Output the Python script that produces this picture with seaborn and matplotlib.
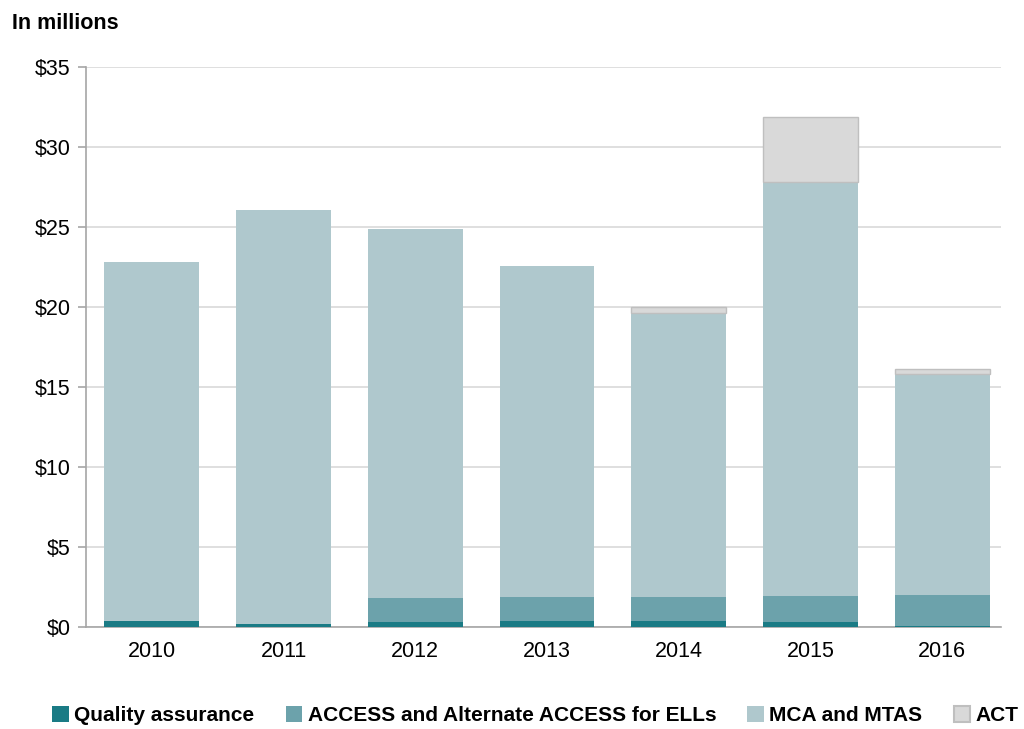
import matplotlib.pyplot as plt
import seaborn as sns
import numpy as np
import pandas as pd

# Data (in millions of dollars)
years = ["2010", "2011", "2012", "2013", "2014", "2015", "2016"]
quality_assurance = [0.35, 0.2, 0.3, 0.4, 0.35, 0.3, 0.05]
access = [0.0, 0.0, 1.5, 1.5, 1.55, 1.65, 1.95]
mca_mtas = [22.45, 25.85, 23.1, 20.65, 17.75, 25.85, 13.8]
act = [0.0, 0.0, 0.0, 0.0, 0.35, 4.05, 0.3]

series = [
    ("Quality assurance", quality_assurance, "#1a7b85", "#1a7b85"),
    ("ACCESS and Alternate ACCESS for ELLs", access, "#6ca2ab", "#6ca2ab"),
    ("MCA and MTAS", mca_mtas, "#afc8cd", "#afc8cd"),
    ("ACT", act, "#d9d9d9", "#bfbfbf"),
]

sns.set_style("white")
plt.rcParams['font.family'] = ['Liberation Sans', 'DejaVu Sans']
plt.rcParams['text.color'] = 'black'
plt.rcParams['xtick.color'] = 'black'
plt.rcParams['ytick.color'] = 'black'

fig = plt.figure(figsize=(10.24, 7.29), dpi=100)
ax = fig.add_axes([0.084, 0.14, 0.894, 0.768])

bottom = np.zeros(len(years))
for name, vals, color, edge in series:
    df = pd.DataFrame({"year": years, "value": vals})
    sns.barplot(data=df, x="year", y="value", ax=ax, color=color,
                bottom=bottom, width=0.72, label=name,
                edgecolor=edge, linewidth=1.0 if name == "ACT" else 0,
                saturation=1, zorder=3)
    bottom = bottom + np.array(vals)

handles, labels = ax.get_legend_handles_labels()
if ax.get_legend() is not None:
    ax.get_legend().remove()

# hide outlines of empty segments
for p in ax.patches:
    if p.get_height() == 0:
        p.set_linewidth(0)

ax.set_ylim(0, 35)
ax.set_xlim(-0.5, 6.45)
ax.set_yticks(range(0, 36, 5))
ax.set_yticklabels([f"${v}" for v in range(0, 36, 5)], fontsize=15.5)
ax.tick_params(axis="x", labelsize=15.5, length=0, pad=10)
ax.tick_params(axis="y", length=6, width=1.2, color="#a6a6a6", direction="out", left=True, pad=5)
ax.set_xlabel("")
ax.set_ylabel("")
ax.yaxis.grid(True, color="#d9d9d9", linewidth=1.2, zorder=0)
ax.set_axisbelow(True)

for side in ["top", "right"]:
    ax.spines[side].set_visible(False)
ax.spines["left"].set_color("#a6a6a6")
ax.spines["bottom"].set_color("#a6a6a6")
ax.spines["left"].set_linewidth(1.2)
ax.spines["bottom"].set_linewidth(1.2)

fig.text(0.012, 0.968, "In millions", fontsize=15.5, fontweight="bold", va="center")

leg = fig.legend(handles, labels, loc="center", bbox_to_anchor=(0.523, 0.018),
                 ncol=4, frameon=False, handlelength=0.8, handleheight=0.8,
                 handletextpad=0.25, columnspacing=1.5,
                 prop={"size": 15, "weight": "bold"})
for h, (name, vals, color, edge) in zip(leg.legend_handles, series):
    h.set_facecolor(color)
    h.set_edgecolor(edge)
    h.set_linewidth(1.5 if name == "ACT" else 0)

fig.savefig("out.png", dpi=100)
